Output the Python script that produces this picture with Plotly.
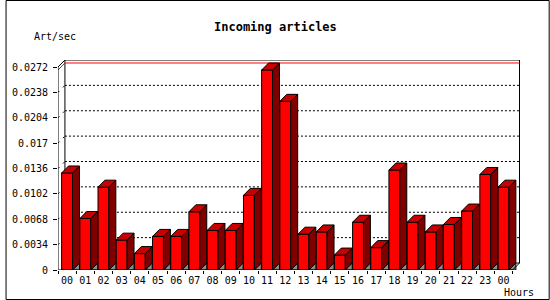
import plotly.graph_objects as go

# ---- data ----
hours = ["00", "01", "02", "03", "04", "05", "06", "07", "08", "09", "10", "11",
         "12", "13", "14", "15", "16", "17", "18", "19", "20", "21", "22", "23", "00"]
art_per_sec = [0.0130, 0.0069, 0.0111, 0.0040, 0.0022, 0.0045, 0.0045, 0.0078,
               0.0053, 0.0053, 0.0100, 0.0268, 0.0226, 0.0048, 0.0051, 0.0020,
               0.0064, 0.0030, 0.0134, 0.0064, 0.0051, 0.0061, 0.0079, 0.0128, 0.0111]
y_tick_vals = [0, 0.0034, 0.0068, 0.0102, 0.0136, 0.017, 0.0204, 0.0238, 0.0272]
y_tick_text = ["0", "0.0034", "0.0068", "0.0102", "0.0136", "0.017", "0.0204", "0.0238", "0.0272"]

# ---- geometry ----
W, H = 550, 300
L, R, T, B = 53, 30, 60, 30
PW, PH = W - L - R, H - T - B
YMAX = y_tick_vals[-1]
px_per_y = 203.0 / YMAX
px_per_x = 18.38
DEPTH = 7
DX = DEPTH / px_per_x
DY = DEPTH / px_per_y
x0 = -0.5
x1 = x0 + PW / px_per_x
y1 = PH / px_per_y
n = len(hours)
centers = list(range(n))
HW = 0.3
front_right = x0 + n

FONT = "DejaVu Sans Mono"

def px(xp):
    return (xp - L) / PW

def py(yp):
    return (H - B - yp) / PH

fig = go.Figure()

# front faces
fig.add_trace(go.Bar(x=centers, y=art_per_sec, width=2 * HW,
                     marker=dict(color="#ff0000", line=dict(color="black", width=1)),
                     hoverinfo="skip", showlegend=False))

# floor triangles, sides, tops
fx, fy, sx, sy, tx, ty = [], [], [], [], [], []
for c, v in zip(centers, art_per_sec):
    r = c + HW
    l = c - HW
    fx += [r, r + DX, r + DX, r, None]
    fy += [0, DY, 0, 0, None]
    sx += [r, r, r + DX, r + DX, r, None]
    sy += [0, v, v + DY, DY, 0, None]
    tx += [l, l + DX, r + DX, r, l, None]
    ty += [v, v + DY, v + DY, v, v, None]

fig.add_trace(go.Scatter(x=fx, y=fy, mode="lines", fill="toself", fillcolor="#8c8c8c",
                         line=dict(color="black", width=1), hoverinfo="skip", showlegend=False))
fig.add_trace(go.Scatter(x=sx, y=sy, mode="lines", fill="toself", fillcolor="#800000",
                         line=dict(color="black", width=1), hoverinfo="skip", showlegend=False))
fig.add_trace(go.Scatter(x=tx, y=ty, mode="lines", fill="toself", fillcolor="#c80000",
                         line=dict(color="black", width=1), hoverinfo="skip", showlegend=False))

shapes = []
blk = dict(color="black", width=1)
# back plane
shapes.append(dict(type="line", x0=x0 + DX, y0=DY, x1=x0 + DX, y1=YMAX + DY, line=blk, layer="below"))
shapes.append(dict(type="line", x0=x0 + DX, y0=YMAX + DY, x1=front_right + DX, y1=YMAX + DY, line=blk, layer="below"))
shapes.append(dict(type="line", x0=front_right + DX, y0=DY, x1=front_right + DX, y1=YMAX + DY, line=blk, layer="below"))
shapes.append(dict(type="line", x0=x0 + DX, y0=DY, x1=front_right + DX, y1=DY, line=blk, layer="below"))
# gridlines (dotted)
for t in y_tick_vals[1:-1]:
    shapes.append(dict(type="line", x0=x0 + DX, y0=t + DY, x1=front_right + DX, y1=t + DY,
                       line=dict(color="black", width=1, dash="2px,2px"), layer="below"))
    shapes.append(dict(type="line", x0=x0, y0=t, x1=x0 + DX, y1=t + DY,
                       line=dict(color="black", width=1, dash="2px,5px"), layer="below"))
# max line (red)
vmax = max(art_per_sec)
shapes.append(dict(type="line", x0=x0 + DX, y0=vmax + DY, x1=front_right + DX, y1=vmax + DY,
                   line=dict(color="#ff0000", width=1), layer="below"))
shapes.append(dict(type="line", x0=x0, y0=vmax, x1=x0 + DX, y1=vmax + DY,
                   line=dict(color="#ff0000", width=1), layer="below"))
# front axes
shapes.append(dict(type="line", x0=x0, y0=0, x1=x0, y1=YMAX, line=blk, layer="above"))
shapes.append(dict(type="line", x0=x0, y0=YMAX, x1=x0 + DX, y1=YMAX + DY, line=blk, layer="above"))
shapes.append(dict(type="line", x0=x0, y0=0, x1=front_right, y1=0, line=blk, layer="above"))
shapes.append(dict(type="line", x0=front_right, y0=0, x1=front_right + DX, y1=DY, line=blk, layer="above"))
# image border
shapes.append(dict(type="rect", xref="paper", yref="paper",
                   x0=px(0.5), x1=px(549.5), y0=py(0.5), y1=py(299.5),
                   line=dict(color="black", width=1), layer="above"))

annotations = [
    dict(text="<b>Incoming articles</b>", xref="paper", yref="paper", x=px(273), y=py(27),
         xanchor="center", yanchor="middle", showarrow=False,
         font=dict(family=FONT, size=12, color="black")),
    dict(text="Art/sec", xref="paper", yref="paper", x=px(27), y=py(37),
         xanchor="left", yanchor="middle", showarrow=False,
         font=dict(family=FONT, size=10, color="black")),
    dict(text="Hours", xref="paper", yref="paper", x=px(502), y=py(292),
         xanchor="left", yanchor="middle", showarrow=False,
         font=dict(family=FONT, size=10, color="black")),
]

fig.update_layout(
    width=W, height=H,
    margin=dict(l=L, r=R, t=T, b=B, pad=0),
    paper_bgcolor="white", plot_bgcolor="white",
    showlegend=False,
    shapes=shapes,
    annotations=annotations,
    xaxis=dict(range=[x0, x1], showgrid=False, zeroline=False, showline=False,
               tickmode="array", tickvals=centers, ticktext=hours, ticks="",
               tickfont=dict(family=FONT, size=10, color="black"),
               ticklabelstandoff=3,
               minor=dict(tickmode="array", tickvals=[x0 + i for i in range(n + 1)],
                          ticks="outside", ticklen=3, tickcolor="black", tickwidth=1, showgrid=False)),
    yaxis=dict(range=[0, y1], showgrid=False, zeroline=False, showline=False,
               tickmode="array", tickvals=y_tick_vals, ticktext=y_tick_text,
               ticks="outside", ticklen=4, tickcolor="black", tickwidth=1,
               ticklabelstandoff=3,
               tickfont=dict(family=FONT, size=10, color="black")),
)

fig.write_html("out.html")
